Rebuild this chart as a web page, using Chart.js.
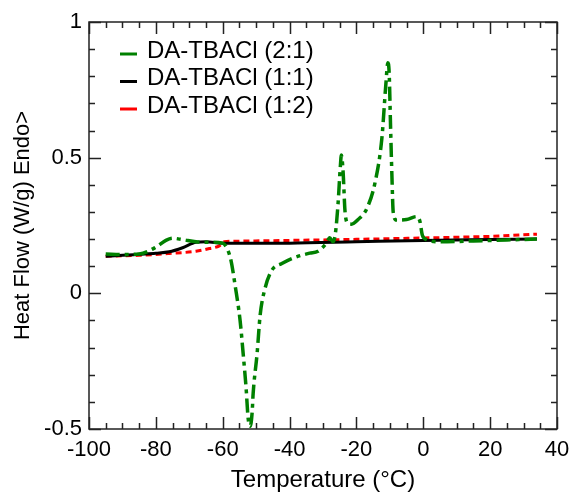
<!DOCTYPE html>
<html lang="en">
  <head>
    <meta charset="utf-8"/>
    <script src="https://cdn.jsdelivr.net/npm/chart.js@4.4.1/dist/chart.umd.min.js"></script>
    <style>
      body { margin: 0; background: #fff; }
    </style>
  </head>
  <body>
    <canvas id="dscPlot" width="570" height="492"></canvas>

<script>
// values
const labels = ['DA-TBACl (2:1)', 'DA-TBACl (1:1)', 'DA-TBACl (1:2)'];
const colours = ['#008000', '#000000', '#ff0000'];

const greenX = [-95, -90, -85, -80, -77, -75, -72, -68, -64, -60, -58.5, -57.5, -56.3, -54.8, -53.9, -53, -52.4, -51.8,
    -51.2, -50.9, -49.7, -48.8, -47.3, -45.3, -42.3, -39, -34, -31.5, -29, -28, -27, -26.3, -25.5, -24.8, -24.5, -24,
    -23.4, -22.5, -21.5, -19.5, -16.8, -14.4, -12.4, -11.2, -10.6, -10.2, -9.8, -9.4, -9, -8, -5, -2, -1, -0.3, 1, 5, 15, 25, 34];
const greenY = [0.145, 0.143, 0.145, 0.17, 0.195, 0.203, 0.198, 0.19, 0.188, 0.185, 0.16, 0.12, 0.03, -0.1, -0.22, -0.35, -0.46, -0.49,
    -0.44, -0.37, -0.22, -0.08, 0.02, 0.085, 0.11, 0.13, 0.148, 0.155, 0.185, 0.205, 0.19, 0.22, 0.33, 0.47, 0.51, 0.45,
    0.3, 0.258, 0.255, 0.272, 0.315, 0.41, 0.57, 0.77, 0.85, 0.81, 0.62, 0.44, 0.3, 0.27, 0.272, 0.283, 0.265, 0.215, 0.198, 0.19, 0.193, 0.197, 0.2];

const blackX = [-95, -90, -85, -80, -76, -72, -68, -65, -60, -40, -20, 0, 20, 34];
const blackY = [0.137, 0.14, 0.144, 0.148, 0.153, 0.168, 0.188, 0.19, 0.185, 0.185, 0.19, 0.195, 0.198, 0.2];

const redX = [-95, -85, -76, -68, -64, -61, -59.5, -57, -40, -20, 0, 20, 34];
const redY = [0.137, 0.14, 0.147, 0.155, 0.165, 0.175, 0.19, 0.192, 0.195, 0.199, 0.204, 0.21, 0.218];

const xTicks = [-100, -80, -60, -40, -20, 0, 20, 40];
const yTicks = [-0.5, 0, 0.5, 1];

function pairs(xs, ys) {
    return xs.map((x, i) => ({ x: x, y: ys[i] }));
}

const FONT = '"Liberation Sans", Arial, sans-serif';

// frame + inward ticks on all four sides
const framePlugin = {
    id: 'frame',
    afterDatasetsDraw(chart) {
        const { ctx, chartArea: a, scales } = chart;
        const xs = scales.x, ys = scales.y;
        ctx.save();
        ctx.strokeStyle = '#222';
        ctx.lineWidth = 1.5;
        ctx.strokeRect(a.left, a.top, a.right - a.left, a.bottom - a.top);
        ctx.beginPath();
        for (let v = -100; v <= 40; v += 5) {
            const px = Math.round(xs.getPixelForValue(v)) + 0.5;
            const len = v % 20 === 0 ? 12 : 6;
            ctx.moveTo(px, a.bottom); ctx.lineTo(px, a.bottom - len);
            ctx.moveTo(px, a.top); ctx.lineTo(px, a.top + len);
        }
        for (let i = -5; i <= 10; i++) {
            const py = Math.round(ys.getPixelForValue(i / 10)) + 0.5;
            const len = i % 5 === 0 ? 12 : 6;
            ctx.moveTo(a.left, py); ctx.lineTo(a.left + len, py);
            ctx.moveTo(a.right, py); ctx.lineTo(a.right - len, py);
        }
        ctx.stroke();
        ctx.restore();
    },
    afterDraw(chart) {
        // legend in upper left of plot
        const ctx = chart.ctx;
        ctx.save();
        ctx.font = '24px ' + FONT;
        ctx.textBaseline = 'middle';
        ctx.fillStyle = '#000';
        labels.forEach((lab, i) => {
            const y = 51 + i * 27.5;
            ctx.strokeStyle = colours[i];
            ctx.lineWidth = 3;
            ctx.beginPath();
            ctx.moveTo(120, y + 3);
            ctx.lineTo(137, y + 3);
            ctx.stroke();
            ctx.fillText(lab, 147, y);
        });
        ctx.restore();
    }
};

const ctx = document.getElementById('dscPlot').getContext('2d');
const chart = new Chart(ctx, {
    type: 'line',
    data: {
        datasets: [
            {
                label: labels[0],
                data: pairs(greenX, greenY),
                borderColor: colours[0],
                borderWidth: 3.5,
                borderDash: [14, 5, 4, 5],
                pointRadius: 0,
                cubicInterpolationMode: 'monotone',
                fill: false,
            },
            {
                label: labels[1],
                data: pairs(blackX, blackY),
                borderColor: colours[1],
                borderWidth: 3,
                pointRadius: 0,
                cubicInterpolationMode: 'monotone',
                fill: false,
            },
            {
                label: labels[2],
                data: pairs(redX, redY),
                borderColor: colours[2],
                borderWidth: 3,
                borderDash: [6, 4],
                pointRadius: 0,
                cubicInterpolationMode: 'monotone',
                fill: false,
            },
        ]
    },
    options: {
        responsive: false,
        animation: false,
        devicePixelRatio: 1,
        layout: { padding: { top: 22, right: 13, left: 0, bottom: 0 } },
        plugins: {
            legend: { display: false },
            tooltip: { enabled: false },
        },
        scales: {
            x: {
                type: 'linear',
                min: -100,
                max: 40,
                afterBuildTicks: (s) => { s.ticks = xTicks.map(v => ({ value: v })); },
                afterFit: (s) => { s.height = 63; s.paddingLeft = 0; s.paddingRight = 0; },
                grid: { display: false, drawTicks: false },
                border: { display: false },
                ticks: { color: '#000', padding: 8, maxRotation: 0, font: { family: FONT, size: 22 } },
                title: {
                    display: true,
                    text: 'Temperature (°C)',
                    color: '#000',
                    padding: { top: 0, bottom: 0 },
                    font: { family: FONT, size: 24, lineHeight: 1 },
                },
            },
            y: {
                min: -0.5,
                max: 1,
                afterBuildTicks: (s) => { s.ticks = yTicks.map(v => ({ value: v })); },
                afterFit: (s) => { s.width = 89; s.paddingTop = 0; s.paddingBottom = 0; },
                grid: { display: false, drawTicks: false },
                border: { display: false },
                ticks: { color: '#000', padding: 7, callback: (v) => String(v), font: { family: FONT, size: 22 } },
                title: {
                    display: true,
                    text: 'Heat Flow (W/g) Endo>',
                    color: '#000',
                    padding: { top: 12, bottom: 0 },
                    font: { family: FONT, size: 22, lineHeight: 1 },
                },
            },
        },
    },
    plugins: [framePlugin],
});
</script>
  </body>
</html>
